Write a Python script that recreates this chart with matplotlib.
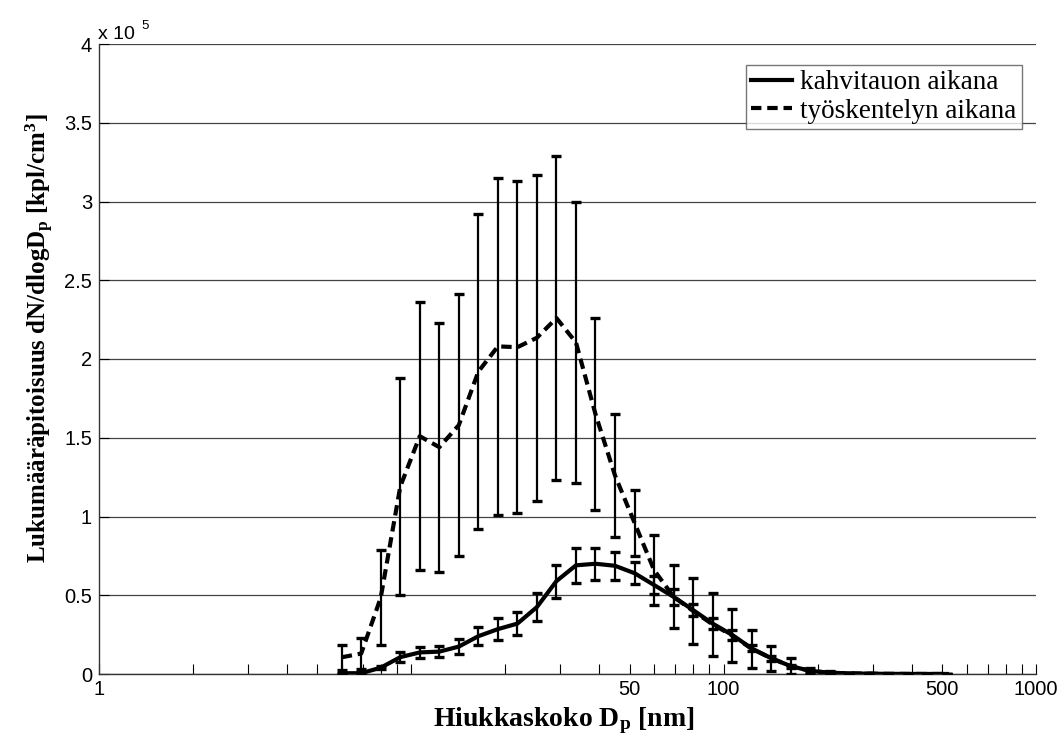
import matplotlib
matplotlib.use('Agg')
import matplotlib.pyplot as plt
import numpy as np

# fonts: serif labels / legend, sans tick labels
plt.rcParams['font.family'] = ['Liberation Serif', 'DejaVu Serif']
plt.rcParams['mathtext.fontset'] = 'custom'
plt.rcParams['mathtext.rm'] = 'Liberation Serif:bold'
plt.rcParams['mathtext.it'] = 'Liberation Serif:bold'
plt.rcParams['mathtext.bf'] = 'Liberation Serif:bold'

# particle size bins [nm]
dp = [5.985, 6.911, 7.981, 9.217, 10.64, 12.29, 14.19, 16.39, 18.93, 21.86,
      25.24, 29.15, 33.66, 38.87, 44.89, 51.84, 59.86, 69.13, 79.83, 92.19,
      106.5, 122.9, 142.0, 163.9, 189.3, 218.6, 252.4, 291.5, 336.6, 388.7,
      448.9, 518.4]

# dN/dlogDp in units of 1e5 kpl/cm3
kahvi = [0.005, 0.005, 0.04, 0.107, 0.137, 0.142, 0.174, 0.24, 0.285, 0.32,
         0.425, 0.59, 0.69, 0.70, 0.687, 0.64, 0.565, 0.49, 0.406, 0.32,
         0.248, 0.163, 0.10, 0.05, 0.02, 0.008, 0.004, 0.002, 0.001, 0.0005,
         0.0003, 0.0002]
kahvi_err = [0.003, 0.005, 0.01, 0.03, 0.037, 0.036, 0.047, 0.056, 0.07, 0.074,
             0.087, 0.105, 0.11, 0.10, 0.09, 0.07, 0.06, 0.05, 0.04, 0.035,
             0.03, 0.02, 0.015, 0.01, 0.008, 0.005, 0.003, 0.002, 0.001, 0.001,
             0.001, 0.001]

tyo = [0.106, 0.13, 0.485, 1.19, 1.51, 1.44, 1.58, 1.92, 2.08, 2.075,
       2.135, 2.26, 2.105, 1.65, 1.26, 0.96, 0.66, 0.49, 0.40, 0.315,
       0.245, 0.16, 0.10, 0.05, 0.02, 0.008, 0.004, 0.002, 0.001, 0.0005,
       0.0003, 0.0002]
tyo_err = [0.08, 0.10, 0.30, 0.69, 0.85, 0.79, 0.83, 1.0, 1.07, 1.055,
           1.035, 1.03, 0.895, 0.61, 0.39, 0.21, 0.22, 0.20, 0.21, 0.20,
           0.17, 0.12, 0.08, 0.05, 0.02, 0.008, 0.004, 0.002, 0.001, 0.001,
           0.001, 0.001]

labels = ['kahvitauon aikana', 'työskentelyn aikana']

xticks = [1, 2, 3, 4, 5, 6, 7, 8, 9, 10, 20, 30, 40, 50, 60, 70, 80, 90,
          100, 200, 300, 400, 500, 600, 700, 800, 900, 1000]
xticklabels_shown = {1: '1', 50: '50', 100: '100', 500: '500', 1000: '1000'}
yticks = [0, 0.5, 1, 1.5, 2, 2.5, 3, 3.5, 4]

W, H = 1062, 740
fig = plt.figure(figsize=(W / 100, H / 100), dpi=100)
ax = fig.add_axes([99 / W, (H - 674) / H, (1036 - 99) / W, (674 - 44) / H])

ax.errorbar(dp, kahvi, yerr=kahvi_err, fmt='none', ecolor='black',
            elinewidth=1.6, capsize=3.5, capthick=2.4, zorder=3)
ax.errorbar(dp, tyo, yerr=tyo_err, fmt='none', ecolor='black',
            elinewidth=1.6, capsize=3.5, capthick=2.4, zorder=3)
l1, = ax.plot(dp, kahvi, color='black', lw=3.0, zorder=4)
l2, = ax.plot(dp, tyo, color='black', lw=3.0, linestyle=(0, (2.5, 1.4)),
              zorder=4)

ax.set_xscale('log')
ax.set_xlim(1, 1000)
ax.set_ylim(0, 4)
ax.minorticks_off()
ax.set_xticks(xticks)
ax.set_xticklabels([xticklabels_shown.get(t, '') for t in xticks],
                   fontfamily='Liberation Sans', fontsize=14.5)
ax.xaxis.set_minor_locator(matplotlib.ticker.NullLocator())
ax.set_yticks(yticks)
ax.set_yticklabels(['0', '0.5', '1', '1.5', '2', '2.5', '3', '3.5', '4'],
                   fontfamily='Liberation Sans', fontsize=14.5)
ax.tick_params(direction='in', length=7, width=0.8, pad=4)
ax.tick_params(axis='y', pad=5)

ax.yaxis.grid(True, color='#444444', lw=0.9)
ax.set_axisbelow(True)
for s in ['top', 'right']:
    ax.spines[s].set_visible(False)
for s in ['left', 'bottom']:
    ax.spines[s].set_linewidth(1.0)
    ax.spines[s].set_color('#333333')

leg = ax.legend([l1, l2], labels, loc='upper right',
                bbox_to_anchor=((1021.7 - 99) / 937, (674 - 65) / 630),
                fontsize=19.5, frameon=True, fancybox=False, handlelength=1.5,
                handletextpad=0.3, borderpad=0.2, labelspacing=0.12,
                borderaxespad=0)
leg.get_frame().set_edgecolor('#555555')
leg.get_frame().set_linewidth(1.0)

# exponent above y axis
fig.text(98 / W, 1 - 39 / H, 'x 10', fontfamily='Liberation Sans',
         fontsize=14, va='baseline', ha='left')
fig.text(141 / W, 1 - 29 / H, '5', fontfamily='Liberation Sans',
         fontsize=9.5, va='baseline', ha='left')

fig.text(564 / W, 1 - 726 / H, r'Hiukkaskoko D$_\mathrm{p}$ [nm]',
         fontsize=20, fontweight='bold', ha='center', va='baseline')
fig.text(40 / W, 1 - 338 / H,
         r'Lukumääräpitoisuus dN/dlogD$_\mathrm{p}$ [kpl/cm$^\mathrm{3}$]',
         fontsize=18, fontweight='bold', ha='center', va='center',
         rotation=90)

fig.savefig('out.png', dpi=100)
